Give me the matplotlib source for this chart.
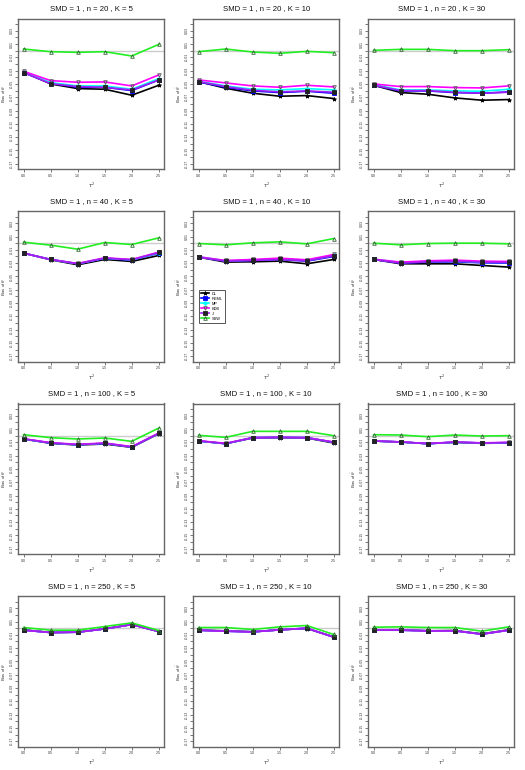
import matplotlib
matplotlib.use("Agg")
import matplotlib.pyplot as plt
import numpy as np

plt.rcParams['font.family'] = ['Liberation Sans', 'DejaVu Sans']

tau2 = [0.0, 0.5, 1.0, 1.5, 2.0, 2.5]
tau2_labels = ["0.0", "0.5", "1.0", "1.5", "2.0", "2.5"]
n_values = [20, 40, 100, 250]
K_values = [5, 10, 30]
methods = ["DL", "REML", "MP", "KDB", "J", "SSW"]

# each list: 12 panels (row-major: n=20 K=5,10,30; n=40 ...), 6 tau^2 values
DL = [
    [-0.032, -0.050, -0.057, -0.058, -0.067, -0.052],
    [-0.0465, -0.0565, -0.064, -0.0685, -0.0675, -0.072],
    [-0.052, -0.063, -0.0655, -0.071, -0.0745, -0.0735],
    [-0.015, -0.025, -0.0325, -0.0245, -0.0275, -0.0185],
    [-0.021, -0.0285, -0.028, -0.027, -0.031, -0.0245],
    [-0.0245, -0.031, -0.031, -0.031, -0.0335, -0.036],
    [-0.005, -0.0115, -0.014, -0.0125, -0.0175, 0.003],
    [-0.008, -0.012, -0.0035, -0.003, -0.0035, -0.011],
    [-0.008, -0.0095, -0.012, -0.010, -0.0115, -0.011],
    [-0.0025, -0.0065, -0.006, -0.001, 0.0055, -0.005],
    [-0.003, -0.004, -0.0055, -0.0025, -0.0005, -0.013],
    [-0.0025, -0.0025, -0.004, -0.0035, -0.0085, -0.0025],
]
REML = [
    [-0.033, -0.049, -0.055, -0.055, -0.060, -0.044],
    [-0.047, -0.055, -0.0605, -0.063, -0.061, -0.064],
    [-0.052, -0.0605, -0.0605, -0.063, -0.064, -0.062],
    [-0.015, -0.0245, -0.031, -0.023, -0.0255, -0.015],
    [-0.021, -0.027, -0.026, -0.0245, -0.027, -0.020],
    [-0.0245, -0.030, -0.0285, -0.028, -0.0295, -0.030],
    [-0.005, -0.011, -0.0135, -0.0115, -0.017, 0.0035],
    [-0.008, -0.012, -0.003, -0.0025, -0.003, -0.010],
    [-0.008, -0.0095, -0.012, -0.0098, -0.011, -0.0105],
    [-0.003, -0.0065, -0.006, -0.001, 0.0055, -0.005],
    [-0.003, -0.0045, -0.0055, -0.0025, 0.0, -0.0135],
    [-0.003, -0.003, -0.004, -0.004, -0.009, -0.003],
]
MP = [
    [-0.032, -0.048, -0.053, -0.053, -0.058, -0.042],
    [-0.046, -0.053, -0.058, -0.059, -0.057, -0.059],
    [-0.051, -0.059, -0.059, -0.0605, -0.061, -0.058],
    [-0.015, -0.0245, -0.031, -0.0225, -0.025, -0.0145],
    [-0.0205, -0.0265, -0.0255, -0.0235, -0.026, -0.0185],
    [-0.024, -0.029, -0.0275, -0.027, -0.0285, -0.029],
    [-0.005, -0.011, -0.0135, -0.0115, -0.017, 0.0035],
    [-0.008, -0.012, -0.003, -0.0025, -0.003, -0.010],
    [-0.008, -0.0095, -0.012, -0.0098, -0.011, -0.0105],
    [-0.003, -0.0065, -0.006, -0.001, 0.0055, -0.005],
    [-0.003, -0.0045, -0.0055, -0.0025, 0.0, -0.0135],
    [-0.003, -0.003, -0.004, -0.004, -0.009, -0.003],
]
KDB = [
    [-0.031, -0.045, -0.0475, -0.047, -0.053, -0.0365],
    [-0.044, -0.0485, -0.053, -0.055, -0.052, -0.0545],
    [-0.050, -0.054, -0.054, -0.0555, -0.056, -0.053],
    [-0.015, -0.0245, -0.0305, -0.022, -0.0245, -0.0135],
    [-0.0205, -0.026, -0.0245, -0.0225, -0.025, -0.017],
    [-0.024, -0.0285, -0.0265, -0.0255, -0.027, -0.0275],
    [-0.0045, -0.0105, -0.013, -0.011, -0.0165, 0.004],
    [-0.0075, -0.0115, -0.003, -0.0025, -0.003, -0.0095],
    [-0.008, -0.0093, -0.0118, -0.0095, -0.0108, -0.010],
    [-0.003, -0.0065, -0.006, -0.001, 0.0055, -0.005],
    [-0.003, -0.0045, -0.0055, -0.0025, 0.0, -0.0135],
    [-0.003, -0.003, -0.004, -0.004, -0.009, -0.003],
]
J = [
    [-0.033, -0.0495, -0.054, -0.055, -0.059, -0.044],
    [-0.0465, -0.054, -0.0595, -0.062, -0.0605, -0.0625],
    [-0.052, -0.060, -0.060, -0.0625, -0.064, -0.0625],
    [-0.015, -0.0245, -0.031, -0.0225, -0.025, -0.014],
    [-0.021, -0.027, -0.026, -0.0245, -0.0265, -0.019],
    [-0.0245, -0.030, -0.028, -0.027, -0.0285, -0.029],
    [-0.005, -0.011, -0.0135, -0.0115, -0.017, 0.0035],
    [-0.008, -0.012, -0.003, -0.0025, -0.003, -0.010],
    [-0.008, -0.0095, -0.012, -0.0098, -0.011, -0.0105],
    [-0.003, -0.0065, -0.006, -0.001, 0.0055, -0.005],
    [-0.003, -0.0045, -0.0055, -0.0025, 0.0, -0.0135],
    [-0.003, -0.003, -0.004, -0.004, -0.009, -0.003],
]
SSW = [
    [0.0025, -0.0015, -0.0025, -0.0015, -0.008, 0.0095],
    [-0.0015, 0.0025, -0.002, -0.004, -0.001, -0.003],
    [0.0005, 0.002, 0.002, 0.0, 0.0, 0.0015],
    [0.0015, -0.003, -0.009, 0.001, -0.002, 0.008],
    [-0.0005, -0.0025, 0.0005, 0.002, -0.001, 0.007],
    [0.0, -0.0025, -0.0005, 0.0, 0.0, -0.001],
    [0.0015, -0.003, -0.005, -0.0035, -0.0085, 0.0115],
    [0.0005, -0.0025, 0.0065, 0.0065, 0.0065, 0.0],
    [0.0015, 0.001, -0.0015, 0.001, -0.0005, 0.0],
    [0.001, -0.003, -0.003, 0.0025, 0.008, -0.0035],
    [0.001, 0.001, -0.002, 0.002, 0.004, -0.0095],
    [0.0015, 0.002, 0.001, 0.001, -0.0045, 0.002],
]
series_data = [DL, REML, MP, KDB, J, SSW]

styles = {
    "DL":   dict(color="black", marker="*", ms=3.0, mfc="black", mec="black"),
    "REML": dict(color="#0000FF", marker="s", ms=2.4, mfc="#0000FF", mec="#0000FF"),
    "MP":   dict(color="#00FFFF", marker="P", ms=2.6, mfc="#00FFFF", mec="#00FFFF"),
    "KDB":  dict(color="#FF00FF", marker="v", ms=2.6, mfc="none", mec="#555555"),
    "J":    dict(color="#A020F0", marker="s", ms=2.4, mfc="#222222", mec="#222222"),
    "SSW":  dict(color="#22EE22", marker="^", ms=2.6, mfc="none", mec="#336633"),
}

W, H = 525, 770
fig = plt.figure(figsize=(W / 100, H / 100), dpi=100)
cell_w, cell_h = 175.0, 192.5
box_l, box_w = 18.2, 146.0
box_t, box_h = 18.5, 150.8

ymin, ymax = -0.17, 0.04
ypad = 0.04 * (ymax - ymin)
xpad = 0.04 * (tau2[-1] - tau2[0])
yticks = np.round(np.arange(-0.17, 0.0401, 0.01), 2)
ylabels = [("%.2f" % v if (round(abs(v) * 100) % 2 == 1) else "") for v in yticks]

frame_col = "#666666"
for i, n in enumerate(n_values):
    for j, K in enumerate(K_values):
        p = i * 3 + j
        left = (j * cell_w + box_l) / W
        bottom = 1 - (i * cell_h + box_t + box_h) / H
        ax = fig.add_axes([left, bottom, box_w / W, box_h / H])
        ax.axhline(0, color="#cccccc", lw=1.0, zorder=1)
        for m, data in zip(methods, series_data):
            st = styles[m]
            ax.plot(tau2, data[p], color=st["color"], lw=1.2, marker=st["marker"],
                    ms=st["ms"], mfc=st["mfc"], mec=st["mec"], mew=0.6,
                    label=m, zorder=3)
        ax.set_xlim(tau2[0] - xpad, tau2[-1] + xpad)
        ax.set_ylim(ymin - ypad, ymax + ypad)
        ax.set_xticks(tau2)
        ax.set_xticklabels(tau2_labels, fontsize=2.6)
        ax.set_yticks(yticks)
        ax.set_yticklabels(ylabels, fontsize=2.6, rotation=90, va="center")
        ax.tick_params(length=2, width=0.5, color="#444444", pad=1.2,
                       labelcolor="#333333")
        for s in ax.spines.values():
            s.set_color(frame_col)
            s.set_linewidth(1.0)
        ax.set_xlabel(r"$\tau^2$", fontsize=3.5, labelpad=2, color="#333333")
        ax.set_ylabel(r"Bias of $\hat{\theta}$", fontsize=3.0, labelpad=1.2,
                      color="#333333")
        fig.text((j * cell_w + box_l + box_w / 2) / W, 1 - (i * cell_h + 8.7) / H,
                 "SMD = 1 , n = %d , K = %d" % (n, K), ha="center", va="center",
                 fontsize=5.6, color="#111111")
        if i == 1 and j == 1:
            leg = ax.legend(loc="upper left", bbox_to_anchor=(0.026, 0.49),
                            fontsize=2.8, frameon=True, fancybox=False,
                            edgecolor="#555555", framealpha=1,
                            handlelength=2.2, handletextpad=0.6,
                            borderpad=0.5, labelspacing=0.25)
            leg.get_frame().set_linewidth(0.7)

fig.savefig("out.png", dpi=100)
